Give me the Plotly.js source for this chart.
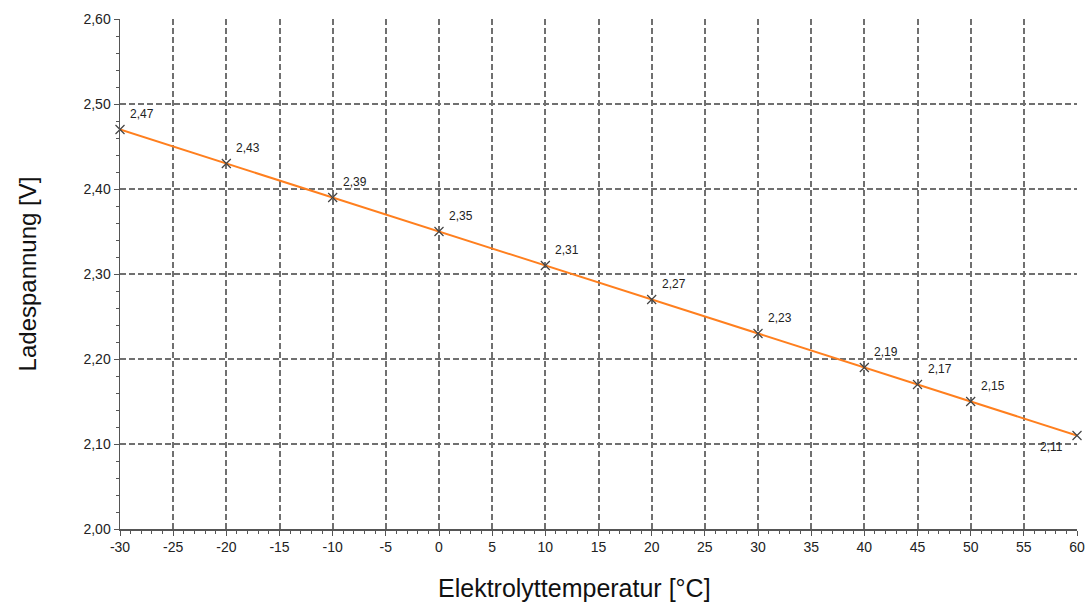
<!DOCTYPE html>
<html><head><meta charset="utf-8">
<script src="https://cdn.plot.ly/plotly-3.0.1.min.js"></script>
<style>body{margin:0;background:#fff}#c{width:1087px;height:603px}</style>
</head><body><div id="c"></div>
<script>
const temps = [-30, -20, -10, 0, 10, 20, 30, 40, 45, 50, 60];
const volts = [2.47, 2.43, 2.39, 2.35, 2.31, 2.27, 2.23, 2.19, 2.17, 2.15, 2.11];
const voltLabels = ['2,47','2,43','2,39','2,35','2,31','2,27','2,23','2,19','2,17','2,15','2,11'];
const xTickVals = [-30,-25,-20,-15,-10,-5,0,5,10,15,20,25,30,35,40,45,50,55,60];
const xTickText = ['-30','-25','-20','-15','-10','-5','0','5','10','15','20','25','30','35','40','45','50','55','60'];
const yTickVals = [2.0,2.1,2.2,2.3,2.4,2.5,2.6];
const yTickText = ['2,00','2,10','2,20','2,30','2,40','2,50','2,60'];
const xTitle = 'Elektrolyttemperatur [°C]';
const yTitle = 'Ladespannung [V]';

const FONT = 'Liberation Sans, Arial, sans-serif';
const trace = {
  x: temps, y: volts, mode: 'lines+markers', type: 'scatter', cliponaxis: false,
  line: {color: '#ff7f1e', width: 2},
  marker: {symbol: 'x-thin-open', size: 9, color: '#444', line: {color: '#444', width: 1.2}},
  hoverinfo: 'none'
};
const annotations = temps.map((t, i) => {
  const last = i === temps.length - 1;
  return {
    x: t, y: volts[i], text: voltLabels[i], showarrow: false,
    xshift: last ? -26 : 22, yshift: last ? -11 : 16,
    font: {family: FONT, size: 12, color: '#222'}
  };
});
annotations.push({
  xref: 'paper', yref: 'paper', x: 0.475, y: -0.1157, xanchor: 'center', yanchor: 'middle',
  text: xTitle, showarrow: false, font: {family: FONT, size: 25, color: '#111'}
});
const axisCommon = {
  showline: true, linecolor: '#555', linewidth: 1.5,
  showgrid: true, gridcolor: '#707070', gridwidth: 2, griddash: '6px,3px',
  zeroline: false, ticks: 'outside', ticklen: 5, tickcolor: '#555',
  tickfont: {family: FONT, size: 14, color: '#222'},
  tickmode: 'array', mirror: false
};
const layout = {
  width: 1087, height: 603,
  margin: {l: 120, r: 10, t: 19, b: 74},
  paper_bgcolor: '#fff', plot_bgcolor: '#fff',
  showlegend: false,
  xaxis: Object.assign({}, axisCommon, {
    range: [-30, 60], tickvals: xTickVals, ticktext: xTickText,
    minor: {dtick: 1, ticks: 'outside', ticklen: 3, tickcolor: '#555', showgrid: false}
  }),
  yaxis: Object.assign({}, axisCommon, {
    range: [2.0, 2.6], tickvals: yTickVals, ticktext: yTickText,
    minor: {dtick: 0.02, ticks: 'outside', ticklen: 3, tickcolor: '#555', showgrid: false},
    title: {text: yTitle, standoff: 40,
      font: {family: FONT, size: 24, color: '#111'}}
  }),
  annotations: annotations
};
Plotly.newPlot('c', [trace], layout, {staticPlot: true});
</script></body></html>
